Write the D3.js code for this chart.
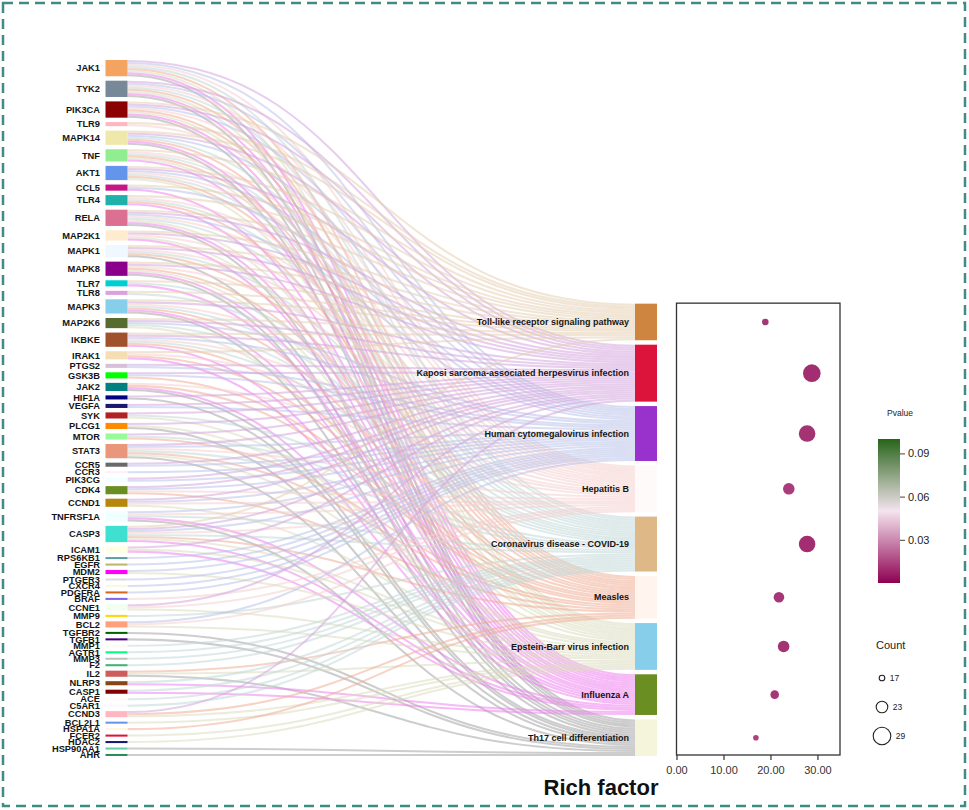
<!DOCTYPE html>
<html><head><meta charset="utf-8">
<script src="https://cdn.jsdelivr.net/npm/d3@7"></script>
<style>body{margin:0;background:#fff;} svg{display:block;font-family:"Liberation Sans",Arial,Helvetica,sans-serif;}</style>
</head><body><svg id="chart" width="969" height="810"></svg>
<script>
// ---------------- data ----------------
const genes = ["JAK1","TYK2","PIK3CA","TLR9","MAPK14","TNF","AKT1","CCL5","TLR4","RELA","MAP2K1","MAPK1","MAPK8","TLR7","TLR8","MAPK3","MAP2K6","IKBKE","IRAK1","PTGS2","GSK3B","JAK2","HIF1A","VEGFA","SYK","PLCG1","MTOR","STAT3","CCR5","CCR3","PIK3CG","CDK4","CCND1","TNFRSF1A","CASP3","ICAM1","RPS6KB1","EGFR","MDM2","PTGER3","CXCR4","PDGFRA","BRAF","CCNE1","MMP9","BCL2","TGFBR2","TGFB1","MMP1","AGTR1","MMP3","F2","IL2","NLRP3","CASP1","ACE","C5AR1","CCND3","BCL2L1","HSPA1A","FCER2","HDAC2","HSP90AA1","AHR"];
const geneColors = ["#F4A460","#778899","#8B0000","#FFB6C1","#EEE8AA","#90EE90","#6495ED","#C71585","#20B2AA","#DB7093","#FFEBCD","#F0F8FF","#8B008B","#00CED1","#DDA0DD","#87CEEB","#556B2F","#A0522D","#F5DEB3","#D8BFD8","#00FF00","#008080","#000080","#191970","#B22222","#FF8C00","#98FB98","#E9967A","#696969","#FFF0F5","#F0FFFF","#6B8E23","#B8860B","#F0FFFF","#40E0D0","#FFFFE0","#5F9EA0","#BDB76B","#FF00FF","#DCDCDC","#FDF5E6","#D2691E","#7B68EE","#F0FFF0","#FFD700","#FFA07A","#006400","#4B0082","#FFFAF0","#00FF7F","#C0C0C0","#3CB371","#CD5C5C","#8B4513","#800000","#FFFAFA","#F8F8FF","#FFB6C1","#6495ED","#FFF8DC","#DC143C","#191970","#66CDAA","#2E8B57"];
const pathways = ["Toll-like receptor signaling pathway","Kaposi sarcoma-associated herpesvirus infection","Human cytomegalovirus infection","Hepatitis B","Coronavirus disease - COVID-19","Measles","Epstein-Barr virus infection","Influenza A","Th17 cell differentiation"];
const pathwayColors = ["#CD853F","#DC143C","#9932CC","#FFFAFA","#DEB887","#FFF5EE","#87CEEB","#6B8E23","#F5F5DC"];
const linkColors = ["#e5cfb3","#d6a6df","#bcc3ea","#f6cfcf","#c3d8d8","#f0ae98","#dcdcc0","#ee82ee","#a4a4a4"];
// pathway indices each gene is linked to
const geneTargets = [
 [1,2,3,4,5,6,7,8],[1,2,3,4,5,6,7,8],[0,1,2,3,5,6,7,8],[0,3],[0,1,2,4,5,7,8],[0,3,4,5,6,7],[0,1,2,3,4,5,6],[0,2,7],[0,3,4,5,7],[0,1,2,3,4,6,7,8],
 [0,1,3,6,7],[0,1,3,4,5,8],[0,1,3,5,6,7,8],[0,4,7],[0,4],[0,1,3,4,5,7,8],[0,1,2,4,6],[0,1,2,3,4,5,7],[0,3,5,7],[1,2],
 [1,2,5],[3,5,7,8],[1,8],[1,2],[1,4,6],[1,6,8],[1,4,5],[1,2,3,4,5,6,8],[1,2],[2],
 [1,2],[1,2,3,5],[1,2,3,6],[2,3,4,7,8],[0,1,2,3,4,5,6,7],[1,6,7],[2],[2],[2,6],[2],
 [2],[2],[3],[1,3,6],[4],[2,3,6],[8],[8],[4],[4],
 [4],[4],[5,6,8],[4,7],[4,7],[4],[4],[1,5,6],[6],[5],
 [6],[6],[8],[8]
];
const richFactor = [18.9,28.8,27.8,23.9,27.8,21.8,22.8,20.9,16.9];
const counts = [18,29,28,23,28,22,23,20,17];
const pvalues = [0.012,0.010,0.011,0.013,0.010,0.012,0.011,0.012,0.014];
const xTicks = [0,10,20,30];
const pTicks = [0.03,0.06,0.09];
const countLegend = [17,23,29];

// ---------------- layout ----------------
const svg = d3.select("#chart");
const sTop = 60, sBottom = 756, nodeW = 22, leftX = 105.5, rightX = 635, pad = 4.43;

const links = [];
geneTargets.forEach((ts, g) => ts.forEach(p => links.push({source: g, target: p})));
const geneVal = geneTargets.map(t => t.length);
const pathVal = pathways.map((_, p) => links.filter(l => l.target === p).length);
const total = d3.sum(geneVal);
const ky = (sBottom - sTop - (genes.length - 1) * pad) / total;
const h = d3.scaleLinear().domain([0, total]).range([0, total * ky]);

const geneNodes = [];
let y = sTop;
genes.forEach((g, i) => { geneNodes.push({name: g, y0: y, y1: y + h(geneVal[i]), color: geneColors[i]}); y += h(geneVal[i]) + pad; });
const rightSpan = h(total) + (pathways.length - 1) * pad;
const pathNodes = [];
y = sBottom - rightSpan;
pathways.forEach((p, i) => { pathNodes.push({name: p, y0: y, y1: y + h(pathVal[i]), color: pathwayColors[i]}); y += h(pathVal[i]) + pad; });

// link offsets
geneNodes.forEach((n, g) => {
  let off = n.y0;
  links.filter(l => l.source === g).sort((a, b) => a.target - b.target).forEach(l => { l.sy = off + ky / 2; off += ky; });
});
pathNodes.forEach((n, p) => {
  let off = n.y0;
  links.filter(l => l.target === p).sort((a, b) => a.source - b.source).forEach(l => { l.ty = off + ky / 2; off += ky; });
});

const linkGen = d3.linkHorizontal().source(d => [leftX + nodeW, d.sy]).target(d => [rightX, d.ty]);
svg.append("g").attr("fill", "none").selectAll("path").data(links).join("path")
  .attr("d", linkGen)
  .attr("stroke", d => linkColors[d.target])
  .attr("stroke-opacity", 0.55)
  .attr("stroke-width", ky);

// nodes
svg.append("g").selectAll("rect").data(geneNodes).join("rect")
  .attr("x", leftX).attr("width", nodeW).attr("y", d => d.y0).attr("height", d => d.y1 - d.y0)
  .attr("fill", d => d.color);
svg.append("g").selectAll("rect").data(pathNodes).join("rect")
  .attr("x", rightX).attr("width", nodeW).attr("y", d => d.y0).attr("height", d => d.y1 - d.y0)
  .attr("fill", d => d.color);

svg.append("g").attr("font-size", 9.3).attr("font-weight", "bold").attr("fill", "#151515").attr("text-anchor", "end")
  .selectAll("text").data(geneNodes).join("text")
  .attr("x", leftX - 5.5).attr("y", d => (d.y0 + d.y1) / 2).attr("dy", "0.35em").text(d => d.name);
svg.append("g").attr("font-size", 9).attr("font-weight", "bold").attr("fill", "#151515").attr("text-anchor", "end")
  .selectAll("text").data(pathNodes).join("text")
  .attr("x", rightX - 6).attr("y", d => (d.y0 + d.y1) / 2).attr("dy", "0.35em").text(d => d.name);

// ---------------- bubble panel ----------------
const boxTop = pathNodes[0].y0 - 0.5, boxBottom = sBottom - 1;
const x = d3.scaleLinear().domain([0, d3.max(counts) * 1.2]).range([676.5, 840]);
const r = d3.scaleLinear().domain([17, 29]).range([2.8, 8.8]);
const color = d3.scaleLinear().domain([0, 0.05, 0.1]).range(["#8e0152", "#f4e4ee", "#276419"]);

svg.append("rect").attr("x", x.range()[0]).attr("y", boxTop).attr("width", x.range()[1] - x.range()[0])
  .attr("height", boxBottom - boxTop).attr("fill", "none").attr("stroke", "#333").attr("stroke-width", 1.3);

svg.append("g").selectAll("circle").data(pathNodes).join("circle")
  .attr("cx", (d, i) => x(richFactor[i])).attr("cy", d => (d.y0 + d.y1) / 2)
  .attr("r", (d, i) => r(counts[i])).attr("fill", (d, i) => color(pvalues[i]));

const xAxis = svg.append("g").attr("transform", `translate(0,${boxBottom})`)
  .call(d3.axisBottom(x).tickValues(xTicks).tickFormat(d3.format(".2f")).tickSize(5).tickPadding(6));
xAxis.select(".domain").remove();
xAxis.selectAll("line").attr("stroke", "#333").attr("stroke-width", 1.2);
xAxis.selectAll("text").attr("font-size", 11).attr("fill", "#333").attr("font-family", "Liberation Sans, Arial, sans-serif");

svg.append("text").attr("x", 601).attr("y", 795).attr("text-anchor", "middle")
  .attr("font-size", 22).attr("font-weight", "bold").attr("fill", "#111").text("Rich factor");

// colour bar
const defs = svg.append("defs");
const grad = defs.append("linearGradient").attr("id", "pgrad").attr("x1", 0).attr("y1", 1).attr("x2", 0).attr("y2", 0);
d3.range(0, 1.0001, 0.05).forEach(t => grad.append("stop").attr("offset", t).attr("stop-color", color(t * 0.1)));
const pScale = d3.scaleLinear().domain([0, 0.1]).range([583, 439]);
svg.append("rect").attr("x", 878).attr("y", pScale(0.1)).attr("width", 22).attr("height", pScale(0) - pScale(0.1)).attr("fill", "url(#pgrad)");
const pAxis = svg.append("g").attr("transform", "translate(900,0)")
  .call(d3.axisRight(pScale).tickValues(pTicks).tickFormat(d3.format(".2f")).tickSize(5).tickPadding(3));
pAxis.select(".domain").remove();
pAxis.selectAll("line").attr("stroke", "#444");
pAxis.selectAll("text").attr("font-size", 11).attr("fill", "#222").attr("font-family", "Liberation Sans, Arial, sans-serif");
svg.append("text").attr("x", 900).attr("y", 416).attr("text-anchor", "middle").attr("font-size", 8.5).attr("fill", "#222").text("Pvalue");

// count legend
svg.append("text").attr("x", 876).attr("y", 649).attr("font-size", 11).attr("fill", "#222").text("Count");
const ly = d3.scalePoint().domain(countLegend).range([678, 736]);
const lg = svg.append("g").selectAll("g").data(countLegend).join("g");
lg.append("circle").attr("cx", 882).attr("cy", d => ly(d)).attr("r", d => r(d)).attr("fill", "none").attr("stroke", "#222").attr("stroke-width", 1.1);
lg.append("text").attr("x", d => 882 + r(d) + 5).attr("y", d => ly(d)).attr("dy", "0.35em").attr("font-size", 8.5).attr("fill", "#222").text(d => d);

// dashed frame
svg.append("rect").attr("x", 3).attr("y", 3).attr("width", 962).attr("height", 803)
  .attr("fill", "none").attr("stroke", "#3f8c87").attr("stroke-width", 2.5).attr("stroke-dasharray", "10,6");
</script></body></html>
